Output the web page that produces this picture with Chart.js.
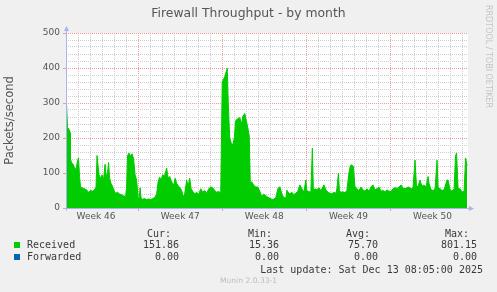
<!DOCTYPE html>
<html>
<head>
<meta charset="utf-8">
<script src="https://cdn.jsdelivr.net/npm/chart.js@4"></script>
<style>
  body { margin: 0; background: #f0f0f0; width: 497px; height: 292px; overflow: hidden; position: relative; font-family: "DejaVu Sans"; }
  canvas { position: absolute; left: 0; top: 0; }
  .t { position: absolute; white-space: pre; line-height: 12px; }
  .mono { font-family: "DejaVu Sans Mono"; font-size: 10px; color: #3a3a3a; text-align: right; }
  .sq { position: absolute; width: 6px; height: 6px; }
</style>
</head>
<body>
<canvas id="grafico" width="497" height="292"></canvas>

<div class="t" style="left:0;width:497px;top:5px;line-height:16px;text-align:center;font-size:12.4px;color:#555">Firewall Throughput - by month</div>
<div class="t" style="left:484px;top:5px;writing-mode:vertical-rl;line-height:9px;font-size:8px;color:#c4c4c4">RRDTOOL / TOBI OETIKER</div>

<div class="t mono" style="right:326px;top:228px">Cur:</div>
<div class="t mono" style="right:225px;top:228px">Min:</div>
<div class="t mono" style="right:127px;top:228px">Avg:</div>
<div class="t mono" style="right:28px;top:228px">Max:</div>

<div class="sq" style="left:14px;top:242px;background:#00cc00"></div>
<div class="t mono" style="left:27px;top:239px;text-align:left">Received</div>
<div class="t mono" style="right:318px;top:239px">151.86</div>
<div class="t mono" style="right:218px;top:239px">15.36</div>
<div class="t mono" style="right:119px;top:239px">75.70</div>
<div class="t mono" style="right:20px;top:239px">801.15</div>

<div class="sq" style="left:14px;top:254px;background:#0066b3"></div>
<div class="t mono" style="left:27px;top:251px;text-align:left">Forwarded</div>
<div class="t mono" style="right:318px;top:251px">0.00</div>
<div class="t mono" style="right:218px;top:251px">0.00</div>
<div class="t mono" style="right:119px;top:251px">0.00</div>
<div class="t mono" style="right:20px;top:251px">0.00</div>

<div class="t mono" style="right:14px;top:264px">Last update: Sat Dec 13 08:05:00 2025</div>
<div class="t" style="left:0;width:497px;top:276px;line-height:10px;text-align:center;font-size:7.6px;color:#bdbdbd">Munin 2.0.33-1</div>

<script>
// horas desde o inicio do grafico (33 dias, munin "by month")
const hours = [1, 3, 6, 8, 9, 11, 14, 17, 20, 23, 25, 27, 29, 33, 37, 41, 45, 49, 53, 57,
  60, 62, 64, 66, 69, 72, 75, 78, 80, 83, 85, 87, 90, 93, 96, 99, 103, 107, 111, 115,
  119, 121, 123, 126, 129, 132, 135, 138, 141, 144, 146, 148, 150, 153, 157, 161, 165, 169, 173, 177,
  181, 184, 187, 190, 193, 197, 201, 204, 207, 211, 215, 218, 221, 225, 228, 231, 234, 237, 241, 244,
  247, 250, 253, 257, 261, 265, 269, 273, 277, 281, 285, 289, 293, 297, 301, 305, 309, 312, 314, 317,
  320, 322, 324, 327, 330, 333, 336, 339, 343, 347, 351, 353, 357, 360, 363, 366, 368, 371, 375, 379,
  383, 388, 391, 395, 399, 403, 407, 411, 415, 419, 423, 427, 431, 435, 439, 441, 444, 447, 451, 455,
  459, 463, 467, 471, 475, 479, 481, 485, 489, 492, 494, 497, 501, 505, 509, 513, 515, 519, 523, 527,
  531, 535, 539, 541, 544, 546, 549, 553, 557, 561, 565, 568, 571, 574, 577, 581, 585, 589, 593, 597,
  601, 605, 609, 613, 617, 621, 625, 629, 633, 637, 641, 645, 649, 653, 657, 661, 665, 669, 673, 677,
  681, 685, 689, 693, 697, 700, 703, 707, 709, 712, 715, 719, 723, 725, 729, 733, 737, 741, 743, 747,
  751, 755, 761, 763, 767, 771, 775, 778, 780, 783, 787, 791, 795, 798, 801]

const received = [300, 230, 225, 215, 140, 130, 125, 115, 110, 135, 143, 90, 60, 57, 55, 52, 45, 50, 48, 52,
  60, 150, 120, 95, 85, 95, 80, 125, 90, 100, 130, 85, 70, 62, 50, 42, 45, 40, 38, 35,
  32, 60, 150, 157, 148, 155, 140, 95, 80, 30, 25, 58, 28, 25, 27, 24, 26, 24, 27, 30,
  40, 75, 88, 80, 95, 92, 114, 85, 90, 75, 65, 85, 70, 62, 57, 50, 32, 40, 80, 62,
  85, 55, 48, 40, 45, 38, 55, 45, 50, 42, 55, 60, 58, 50, 45, 48, 42, 360, 366, 375,
  390, 399, 300, 200, 185, 180, 200, 250, 255, 258, 240, 262, 270, 250, 230, 205, 71, 75, 65, 60,
  60, 45, 32, 40, 35, 31, 28, 25, 25, 30, 55, 61, 40, 30, 28, 51, 45, 40, 45, 38,
  42, 48, 66, 55, 45, 80, 50, 47, 45, 171, 50, 55, 52, 58, 50, 60, 66, 52, 45, 42,
  40, 45, 42, 55, 99, 50, 45, 46, 44, 50, 100, 122, 123, 118, 62, 55, 50, 60, 52, 48,
  55, 48, 60, 66, 52, 55, 60, 48, 50, 46, 52, 48, 47, 55, 58, 56, 60, 66, 57, 55,
  58, 60, 55, 58, 137, 60, 62, 80, 70, 62, 66, 60, 90, 70, 52, 50, 55, 137, 60, 55,
  50, 52, 80, 80, 52, 48, 55, 150, 157, 55, 55, 45, 48, 143, 120]

const forwardedHours = [0, 802]
const forwarded = [0, 0]

const semanas = [144, 312, 480, 648]           // inicio de cada semana (segunda 00:00)
const meioSemana = [60, 228, 396, 564, 732]    // onde vai o rotulo
const rotulosSemana = ['Week 46', 'Week 47', 'Week 48', 'Week 49', 'Week 50']
const TOTAL_HORAS = 802.8

const VERMELHO = '#f29a9a'
const CINZA = '#cccccc'
const EIXO = '#aab2ee'

Chart.defaults.font.family = 'DejaVu Sans'
Chart.defaults.color = '#555'

// fundo branco e eixos com setinha, estilo rrdtool
const eixosRrd = {
  id: 'eixosRrd',
  beforeDraw(chart) {
    const {ctx, chartArea: a} = chart
    ctx.save()
    ctx.fillStyle = '#fff'
    ctx.fillRect(a.left, a.top, a.right - a.left, a.bottom - a.top)
    ctx.restore()
  },
  afterDraw(chart) {
    const {ctx, chartArea: a} = chart
    const x0 = Math.round(a.left) + 0.5
    const y0 = Math.round(a.bottom) + 0.5
    ctx.save()
    ctx.strokeStyle = EIXO
    ctx.fillStyle = EIXO
    ctx.lineWidth = 1
    ctx.beginPath()
    ctx.moveTo(x0, y0 + 2)
    ctx.lineTo(x0, a.top - 3)
    ctx.moveTo(x0 - 2, y0)
    ctx.lineTo(a.right + 2, y0)
    ctx.stroke()
    ctx.beginPath()
    ctx.moveTo(x0, a.top - 7)
    ctx.lineTo(x0 - 2.5, a.top - 2)
    ctx.lineTo(x0 + 2.5, a.top - 2)
    ctx.fill()
    ctx.beginPath()
    ctx.moveTo(a.right + 6, y0)
    ctx.lineTo(a.right + 1, y0 - 2.5)
    ctx.lineTo(a.right + 1, y0 + 2.5)
    ctx.fill()
    ctx.restore()
  }
}

new Chart(document.getElementById('grafico'), {
  type: 'line',
  data: {
    datasets: [
      {
        label: 'Received',
        data: hours.map((h, i) => ({x: h, y: received[i]})),
        borderColor: '#00cc00',
        backgroundColor: '#00cc00',
        borderWidth: 1,
        fill: 'origin',
        pointRadius: 0,
        tension: 0
      },
      {
        label: 'Forwarded',
        data: forwardedHours.map((h, i) => ({x: h, y: forwarded[i]})),
        borderColor: '#0066b3',
        borderWidth: 0,
        pointRadius: 0,
        fill: false
      }
    ]
  },
  options: {
    responsive: false,
    animation: false,
    devicePixelRatio: 1,
    layout: {padding: {left: 0, top: 33, right: 29, bottom: 64}},
    plugins: {legend: {display: false}, tooltip: {enabled: false}},
    scales: {
      x: {
        type: 'linear',
        min: 0,
        max: TOTAL_HORAS,
        afterFit: s => { s.height = 20 },
        afterBuildTicks: s => {
          const t = []
          for (let h = 24; h < TOTAL_HORAS; h += 24) t.push({value: h})
          meioSemana.forEach(v => t.push({value: v}))
          t.sort((a, b) => a.value - b.value)
          s.ticks = t
        },
        ticks: {
          autoSkip: false,
          maxRotation: 0,
          padding: 0,
          font: {size: 9},
          color: '#555',
          callback: v => {
            const i = meioSemana.indexOf(v)
            return i >= 0 ? rotulosSemana[i] : ''
          }
        },
        grid: {
          color: c => semanas.includes(c.tick.value) ? VERMELHO : (meioSemana.includes(c.tick.value) ? 'rgba(0,0,0,0)' : CINZA),
          tickColor: c => semanas.includes(c.tick.value) ? VERMELHO : 'rgba(0,0,0,0)',
          tickLength: 3,
          lineWidth: 1
        },
        border: {display: false, dash: [1, 1]}
      },
      y: {
        min: 0,
        max: 500,
        afterFit: s => { s.width = 66 },
        ticks: {
          stepSize: 20,
          autoSkip: false,
          padding: 3,
          font: {size: 9},
          color: '#555',
          callback: v => v % 100 === 0 ? v : ''
        },
        grid: {
          color: c => c.tick.value % 100 === 0 ? VERMELHO : CINZA,
          tickColor: c => c.tick.value % 100 === 0 ? VERMELHO : 'rgba(0,0,0,0)',
          tickLength: 3,
          lineWidth: 1
        },
        border: {display: false, dash: [1, 1]},
        title: {
          display: true,
          text: 'Packets/second',
          font: {size: 11.5},
          color: '#555',
          padding: {top: 3, bottom: 0}
        }
      }
    }
  },
  plugins: [eixosRrd]
})
</script>
</body>
</html>
